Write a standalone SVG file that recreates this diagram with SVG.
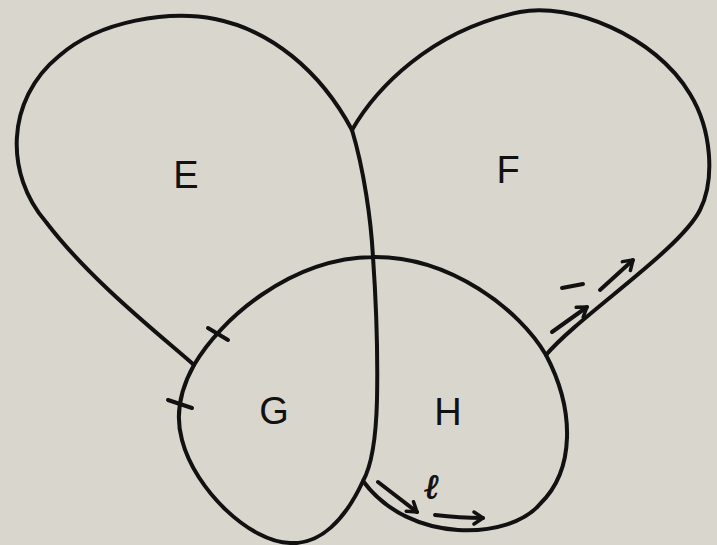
<svg xmlns="http://www.w3.org/2000/svg" width="717" height="545" viewBox="0 0 717 545">
<style>
.line{fill:none;stroke:#111;stroke-width:4;stroke-linecap:round;stroke-linejoin:round}
.arr{fill:none;stroke:#111;stroke-width:4;stroke-linecap:round}
.lbl{font-family:"Liberation Sans",Arial,sans-serif;font-size:38px;fill:#111;text-anchor:middle}
.sym{font-family:"Liberation Serif","Times New Roman",serif;font-style:italic;font-size:34px;fill:#111;stroke:#111;stroke-width:1;text-anchor:middle}
</style>
<defs>
<marker id="ah" markerUnits="userSpaceOnUse" markerWidth="16" markerHeight="16" refX="12" refY="8" orient="auto" viewBox="0 0 16 16">
<path d="M3,2 L12,8 L3,14" fill="none" stroke="#111" stroke-width="3.5" stroke-linecap="round" stroke-linejoin="round"/>
</marker>
</defs>
<rect width="717" height="545" fill="#d9d6ce"/>
<g id="node-E">
<path class="line" d="M194,365 C160,335 90,280 46,222 C5,175 5,100 59,56 C100,20 170,10 215,19 C270,30 320,70 352,130 C364,170 371,220 373,257"/>
<text class="lbl" x="186" y="188">E</text>
</g>
<g id="node-F">
<path class="line" d="M352,130 C375,90 430,30 520,12 C570,2 655,35 690,94 C712,130 715,180 700,210 C680,250 580,315 546,355"/>
<text class="lbl" x="508" y="183">F</text>
</g>
<g id="node-G">
<path class="line" d="M194,365 C220,320 290,258 373,257 M373,257 C376,300 378,350 377,400 C376,440 372,465 363,481 C345,520 320,545 290,543 C250,542 195,490 182,440 C175,415 180,390 194,365"/>
<text class="lbl" x="274" y="424">G</text>
</g>
<g id="node-H">
<path class="line" d="M373,257 C450,256 520,310 546,355 C575,410 575,470 540,504 C510,540 410,545 363,481"/>
<text class="lbl" x="448" y="425">H</text>
</g>
<g id="connectors">
<path class="arr" d="M208,328 L228,340"/>
<path class="arr" d="M168,400 L192,408"/>
<path class="arr" d="M552,332 L587,307" marker-end="url(#ah)"/>
<path class="arr" d="M562,288 L583,284"/>
<path class="arr" d="M600,290 L633,260" marker-end="url(#ah)"/>
<path class="arr" d="M378,482 L417,512" marker-end="url(#ah)"/>
<path class="arr" d="M435,515 Q460,518 483,518" marker-end="url(#ah)"/>
<text class="sym" x="431" y="498">ℓ</text>
</g>
</svg>
